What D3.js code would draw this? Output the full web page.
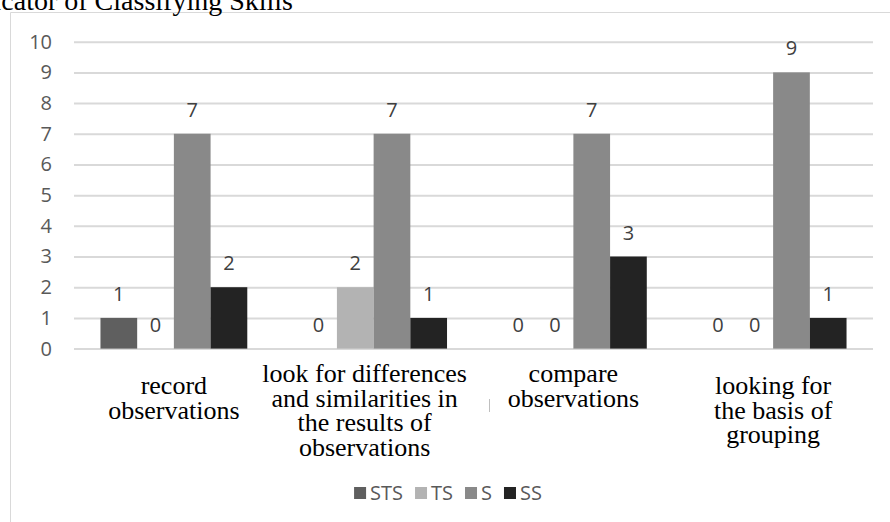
<!DOCTYPE html>
<html>
<head>
<meta charset="utf-8">
<script src="https://cdn.jsdelivr.net/npm/d3@7/dist/d3.min.js"></script>
<style>
  html, body { margin: 0; padding: 0; background: #fff; }
  svg { display: block; }
</style>
</head>
<body>
<svg id="chart" width="890" height="522"></svg>
<script>
// Category labels, split into their wrapped lines
const categories = [
  "record observations",
  "look for differences and similarities in the results of observations",
  "compare observations",
  "looking for the basis of grouping"
];
const categoryLines = [
  ["record", "observations"],
  ["look for differences", "and similarities in", "the results of", "observations"],
  ["compare", "observations"],
  ["looking for", "the basis of", "grouping"]
];
const seriesNames = ["STS", "TS", "S", "SS"];
const valuesSTS = [1, 0, 0, 0];
const valuesTS  = [0, 2, 0, 0];
const valuesS   = [7, 7, 7, 9];
const valuesSS  = [2, 1, 3, 1];
const yTicks = [0, 1, 2, 3, 4, 5, 6, 7, 8, 9, 10];
const titleText = "Indicator of Classifying Skills";

const seriesValues = [valuesSTS, valuesTS, valuesS, valuesSS];
const colors = ["#5f5f5f", "#b3b3b3", "#898989", "#232323"];

const svg = d3.select("#chart");
const W = 890, H = 522;
const plot = { left: 74, right: 873, top: 41.7, bottom: 348.6 };
const serif = "'Liberation Serif', 'Times New Roman', serif";
const sans = "'Open Sans', sans-serif";

// Chart frame (only top and left edges are visible)
svg.append("line").attr("x1", 10.5).attr("x2", W).attr("y1", 12.5).attr("y2", 12.5)
  .attr("stroke", "#d9d9d9").attr("stroke-width", 1);
svg.append("line").attr("x1", 10.5).attr("x2", 10.5).attr("y1", 12.5).attr("y2", H)
  .attr("stroke", "#d9d9d9").attr("stroke-width", 1);

// Title, running off the top-left edge
svg.append("text")
  .attr("x", 293).attr("y", 10)
  .attr("text-anchor", "end")
  .style("font-family", serif)
  .style("font-size", "28px").attr("fill", "#000")
  .text(titleText);

const y = d3.scaleLinear().domain([0, 10]).range([plot.bottom, plot.top]);
const x0 = d3.scaleBand().domain(categories).range([plot.left, plot.right])
  .paddingInner(0.265).paddingOuter(0.1325);
const x1 = d3.scaleBand().domain(seriesNames).range([0, x0.bandwidth()]);

// Gridlines and y tick labels via a left axis
const yAxis = d3.axisLeft(y).tickValues(yTicks).tickSize(0).tickPadding(0).tickFormat(d3.format("d"));
const gy = svg.append("g").attr("transform", `translate(${plot.left},0)`).call(yAxis);
gy.select(".domain").remove();
gy.selectAll(".tick line")
  .attr("x2", plot.right - plot.left)
  .attr("stroke", "#d9d9d9").attr("stroke-width", 2);
gy.selectAll(".tick text")
  .attr("x", -22)
  .style("font-family", sans)
  .style("font-size", "20px").attr("fill", "#595959");

// Bars
const groups = svg.append("g").selectAll("g")
  .data(categories)
  .join("g")
  .attr("transform", d => `translate(${x0(d)},0)`);

const cells = (c, ci) => seriesNames.map((s, si) => ({ s, si, v: seriesValues[si][ci] }));

groups.selectAll("rect")
  .data(cells)
  .join("rect")
  .attr("x", d => x1(d.s))
  .attr("width", x1.bandwidth())
  .attr("y", d => y(d.v))
  .attr("height", d => y(0) - y(d.v))
  .attr("fill", d => colors[d.si]);

groups.selectAll("text.val")
  .data(cells)
  .join("text")
  .attr("class", "val")
  .attr("x", d => x1(d.s) + x1.bandwidth() / 2)
  .attr("y", d => y(d.v) - 17)
  .attr("text-anchor", "middle")
  .style("font-family", sans)
  .style("font-size", "20px").attr("fill", "#404040")
  .text(d => d.v);

// Category labels
const firstBaseline = [394, 382, 382, 394];
const labelShift = [0, -9, 0, 0];
const lineGap = 24.5;
categories.forEach((c, i) => {
  const t = svg.append("text")
    .attr("text-anchor", "middle")
    .style("font-family", serif)
    .style("font-size", "26px").attr("fill", "#000");
  categoryLines[i].forEach((ln, j) => {
    t.append("tspan")
      .attr("x", x0(c) + x0.bandwidth() / 2 + labelShift[i])
      .attr("y", firstBaseline[i] + j * lineGap)
      .text(ln);
  });
});

// Small stray tick under the axis between the 2nd and 3rd categories
svg.append("line").attr("x1", 489.5).attr("x2", 489.5).attr("y1", 399).attr("y2", 412)
  .attr("stroke", "#bfbfbf").attr("stroke-width", 1);

// Legend, centred under the plot
const legend = svg.append("g")
  .style("font-family", sans)
  .style("font-size", "20px").attr("fill", "#595959");
const ly = 493;
let lx = 0;
seriesNames.forEach((s, i) => {
  legend.append("rect").attr("x", lx).attr("y", ly - 6).attr("width", 12).attr("height", 12)
    .attr("fill", colors[i]);
  const tx = legend.append("text").attr("x", lx + 16).attr("y", ly).attr("dy", "0.35em").text(s);
  const w = tx.node().getComputedTextLength();
  lx += 16 + w + (i < seriesNames.length - 1 ? 12 : 0);
});
legend.attr("transform", `translate(${448 - lx / 2},0)`);
</script>
</body>
</html>
